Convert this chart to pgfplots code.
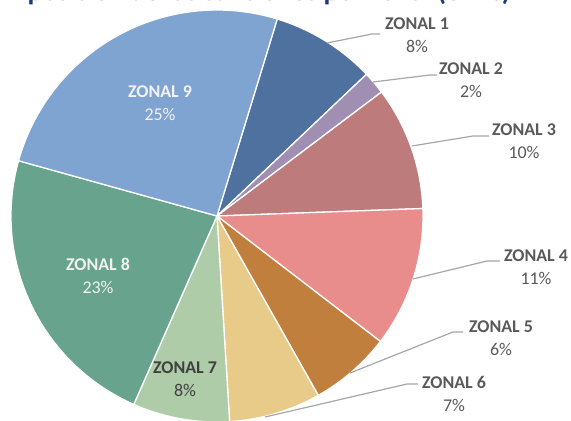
\documentclass[border=0pt]{standalone}
\usepackage{fontspec}
\setmainfont{Carlito}
\usepackage{pgfplots}
\usepackage{pgfplotstable}
\pgfplotsset{compat=1.18}
\definecolor{col0}{HTML}{4E71A0}
\definecolor{col1}{HTML}{A08FB2}
\definecolor{col2}{HTML}{BD7B7C}
\definecolor{col3}{HTML}{E88D8C}
\definecolor{col4}{HTML}{C17F3E}
\definecolor{col5}{HTML}{E8CB88}
\definecolor{col6}{HTML}{AFCCA8}
\definecolor{col7}{HTML}{67A38D}
\definecolor{col8}{HTML}{7FA4D1}
\definecolor{lblgray}{HTML}{595959}
\definecolor{leader}{HTML}{A6A6A6}
\definecolor{titleblue}{HTML}{1F3A7A}
\pgfplotstableread{
zone value
1 8.2
2 1.8
3 9.7
4 11.0
5 6.4
6 7.2
7 7.6
8 22.7
9 25.4
}\piedata
\begin{document}
\begin{tikzpicture}
\begin{axis}[
  scale only axis, width=571bp, height=421bp,
  xmin=0, xmax=571, ymin=0, ymax=421,
  hide axis, clip=false]
\pgfmathsetmacro\cum{73}
\pgfplotsforeachungrouped \i in {0,...,8}{
  \pgfplotstablegetelem{\i}{value}\of\piedata
  \pgfmathsetmacro\a{\cum}
  \pgfmathsetmacro\b{\cum-\pgfplotsretval*3.6}
  \edef\temp{\noexpand\fill[fill=col\i, draw=white, line width=1.3pt, line join=round]
    (axis cs:217,205) -- ++(\a:206bp) arc[start angle=\a, end angle=\b, radius=206bp] -- cycle;}
  \temp
  \global\let\cum\b
}
% leader lines
\draw[leader, line width=1.2pt] (axis cs:327,378) -- (axis cs:372,387) -- (axis cs:380,387);
\draw[leader, line width=1.2pt] (axis cs:373,339) -- (axis cs:430,346) -- (axis cs:437,346);
\draw[leader, line width=1.2pt] (axis cs:412,275) -- (axis cs:473,285) -- (axis cs:489,285);
\draw[leader, line width=1.2pt] (axis cs:413,142) -- (axis cs:487,160) -- (axis cs:500,160);
\draw[leader, line width=1.2pt] (axis cs:350,48) -- (axis cs:453,89) -- (axis cs:463,89);
\draw[leader, line width=1.2pt] (axis cs:265,4) -- (axis cs:407,37) -- (axis cs:418,37);
% labels
\tikzset{lbl/.style={align=center, inner sep=0pt, font=\fontsize{18}{23}\selectfont}}
\node[lbl, text=lblgray] at (axis cs:417,386) {\textbf{ZONAL 1}\\8\%};
\node[lbl, text=lblgray] at (axis cs:471,341) {\textbf{ZONAL 2}\\2\%};
\node[lbl, text=lblgray] at (axis cs:524,280) {\textbf{ZONAL 3}\\10\%};
\node[lbl, text=lblgray] at (axis cs:536,154) {\textbf{ZONAL 4}\\11\%};
\node[lbl, text=lblgray] at (axis cs:501,83) {\textbf{ZONAL 5}\\6\%};
\node[lbl, text=lblgray] at (axis cs:454,27) {\textbf{ZONAL 6}\\7\%};
\node[lbl, text=black!75] at (axis cs:185,42) {\textbf{ZONAL 7}\\8\%};
\node[lbl, text=white!95!black] at (axis cs:98,145) {\textbf{ZONAL 8}\\23\%};
\node[lbl, text=white!95!black] at (axis cs:160,318) {\textbf{ZONAL 9}\\25\%};
\node[anchor=base west, inner sep=0pt, text=titleblue, font=\fontsize{28}{32}\selectfont\bfseries]
  at (axis cs:-25,420.3) {Composición de las sanciones por zonal (en \%)};
\end{axis}
\pgfresetboundingbox
\useasboundingbox (0,0) rectangle (571bp,421bp);
\end{tikzpicture}
\end{document}
